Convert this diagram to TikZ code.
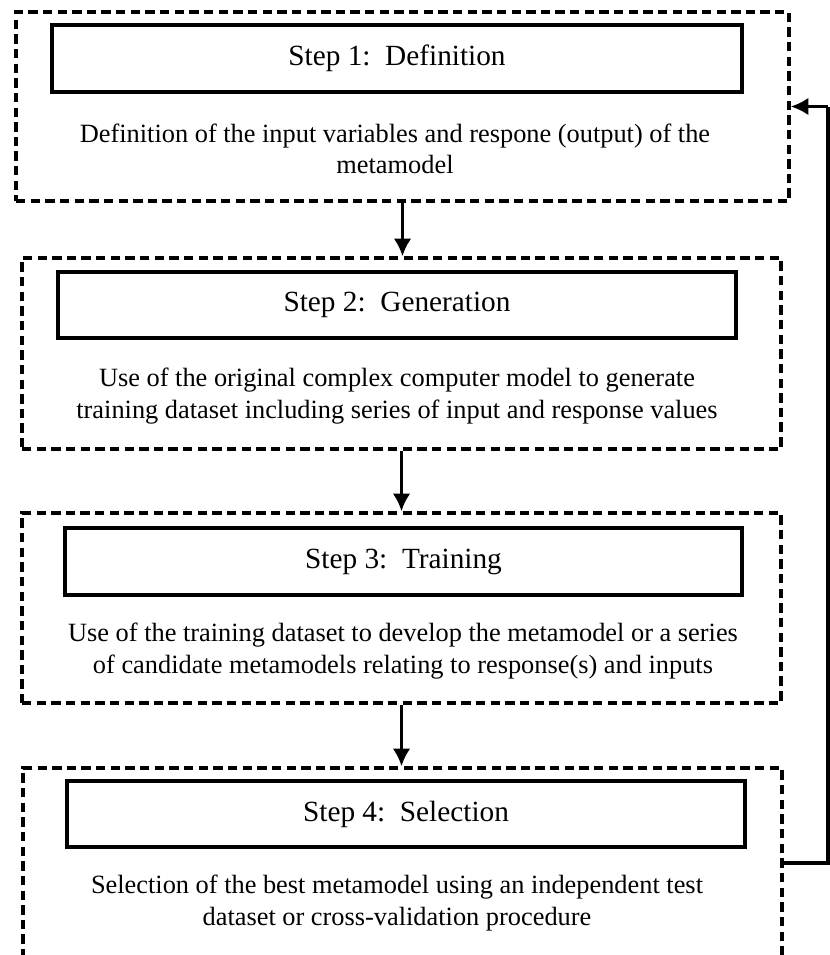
\documentclass[tikz,border=0pt]{standalone}
\usepackage{fontspec}
\setmainfont{Liberation Serif}
\usetikzlibrary{arrows.meta}
\tikzset{>={Latex[length=15pt,width=15pt]}}
\tikzset{
    stage/.style={draw, dash pattern=on 8pt off 4.5pt, line width=3pt,
        minimum width=22.77cm, minimum height=5.7cm},
    title/.style={draw, line width=3.4pt, minimum width=20.34cm, minimum height=1.98cm,
        font=\fontsize{25}{29}\selectfont},
    body/.style={align=center, font=\fontsize{22.5}{27}\selectfont},
    flow/.style={->, line width=2.6pt}
}
\begin{document}
\begin{tikzpicture}
    \clip(0, 0)rectangle(24.9, -28.65);
    \node[stage, minimum width=23.19cm, minimum height=5.67cm](s1) at(12.075, -3.195){};
    \node[stage, minimum height=5.73cm](s2) at(12.045, -10.605){};
    \node[stage](s3) at(12.045, -18.24){};
    \node[stage](s4) at(12.075, -25.89){};
    \node[title, minimum width=20.7cm, minimum height=2.01cm](t1) at(11.91, -1.755){Step 1:\ \ Definition};
    \node[title](t2) at(11.91, -9.15){Step 2:\ \ Generation};
    \node[title, minimum width=20.31cm, minimum height=2.01cm](t3) at(12.105, -16.845){Step 3:\ \ Training};
    \node[title](t4) at(12.18, -24.42){Step 4:\ \ Selection};
    \node[body](b1) at(11.85, -4.47){Definition of the input variables and respone (output) of the\\metamodel};
    \node[body](b2) at(11.91, -11.88){Use of the original complex computer model to generate\\training dataset including series of input and response values};
    \node[body](b3) at(12.09, -19.53){Use of the training dataset to develop the metamodel or a series\\of candidate metamodels relating to response(s) and inputs};
    \node[body](b4) at(11.91, -27.09){Selection of the best metamodel using an independent test\\dataset or cross-validation procedure};
    \draw[flow](s1.south)--(s1.south |- s2.north);
    \draw[flow](s2.south)--(s2.south |- s3.north);
    \draw[flow](s3.south)--(s3.south |- s4.north);
    \coordinate(back) at(24.84, -3.195);
    \draw[line width=2.6pt](s4.east)-|(back);
    \draw[flow](back)--(s1.east);
\end{tikzpicture}
\end{document}
